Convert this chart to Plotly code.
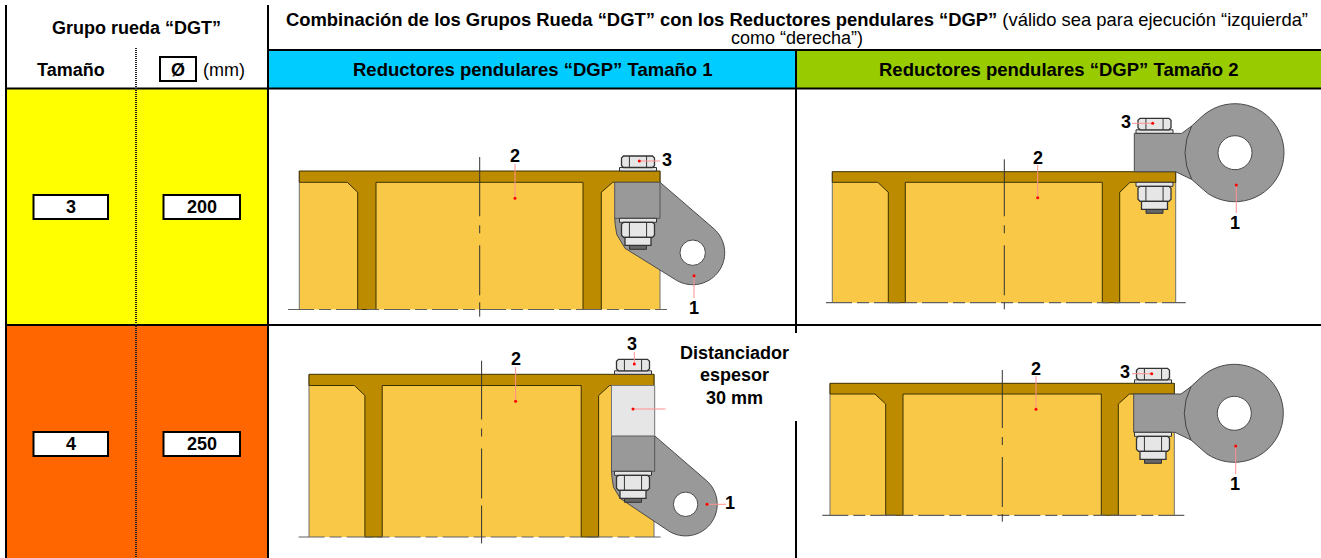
import math
import plotly.graph_objects as go

# --- table content ---
grupo_title = "Grupo rueda “DGT”"
col_tamano = "Tamaño"
col_diam = "Ø"
col_unit = "(mm)"
comb_line1 = ("<b>Combinación de los Grupos Rueda “DGT” con los Reductores pendulares “DGP”</b> "
              "(válido sea para ejecución “izquierda”")
comb_line2 = "como “derecha”)"
header_labels = ["Reductores pendulares “DGP” Tamaño 1", "Reductores pendulares “DGP” Tamaño 2"]
sizes = ["3", "4"]
diameters = ["200", "250"]
spacer_lines = ["Distanciador", "espesor", "30 mm"]

PLATE = "#BC8B00"; BODY = "#F9C846"; GREY = "#999999"; LIGHT = "#E6E6E6"
EDGE = "#4A4A4A"; RED = "#FF0000"; LEAD = "#FF9090"; BLACK = "#000000"
FS = 18

shapes, notes, dots_x, dots_y = [], [], [], []


def rect(x0, y0, x1, y1, fill=None, line=None, w=1):
    shapes.append(dict(type="rect", x0=x0, y0=y0, x1=x1, y1=y1, layer="below",
                       fillcolor=fill or "rgba(0,0,0,0)",
                       line=dict(color=line or "rgba(0,0,0,0)", width=w if line else 0)))


def seg(x0, y0, x1, y1, color=BLACK, w=1, dash="solid"):
    shapes.append(dict(type="line", x0=x0, y0=y0, x1=x1, y1=y1, layer="below",
                       line=dict(color=color, width=w, dash=dash)))


def poly(pts, fill, line=EDGE, w=1, close=True):
    d = "M" + " L".join(f"{x:.2f},{y:.2f}" for x, y in pts) + (" Z" if close else "")
    shapes.append(dict(type="path", path=d, layer="below", fillcolor=fill,
                       line=dict(color=line, width=w)))


def raw_path(d, line=EDGE, w=1):
    shapes.append(dict(type="path", path=d, layer="below", line=dict(color=line, width=w)))


def circle(cx, cy, r, fill, line=EDGE):
    shapes.append(dict(type="circle", x0=cx - r, y0=cy - r, x1=cx + r, y1=cy + r, layer="below",
                       fillcolor=fill, line=dict(color=line, width=1)))


def text(x, y, s, size=FS, bold=True, color=BLACK):
    notes.append(dict(x=x, y=y, text=f"<b>{s}</b>" if bold else s, showarrow=False,
                      xanchor="center", yanchor="middle",
                      font=dict(family="Liberation Sans, Arial, sans-serif", size=size, color=color)))


def arc(cx, cy, r, a0, a1, n=40):
    return [(cx + r * math.cos(math.radians(a0 + (a1 - a0) * i / n)),
             cy + r * math.sin(math.radians(a0 + (a1 - a0) * i / n))) for i in range(n + 1)]


def leader(x0, y0, x1, y1, dx, dy):
    seg(x0, y0, x1, y1, LEAD, 1)
    dots_x.append(dx); dots_y.append(dy)


def frame(x0, x1, top, under, bottom, r1, r2, cl, cham_l, cham_r, base0, base1, c_top, c_bot):
    rect(x0, under, x1, bottom, BODY)
    seg(x0, top, x0, bottom, "#707070", 1)
    seg(x1, top, x1, bottom, "#707070", 1)
    poly([(x0, top), (x1, top), (x1, under), (cham_r, under), (r2[1], under + 10), (r2[1], bottom),
          (r2[0], bottom), (r2[0], under), (r1[1], under), (r1[1], bottom), (r1[0], bottom),
          (r1[0], under + 10), (cham_l, under), (x0, under)], PLATE, "#3A3000", 1)
    seg(base0, bottom, base1, bottom, "#606060", 1.2, "26px,5px,12px,5px")
    for a, b in [(c_top, under + 34), (under + 43, under + 51), (under + 63, under + 113),
                 (under + 120, c_bot)]:
        seg(cl, a, cl, b, "#333333", 1)


def nut(x0, x1, y0, y1):
    c = 2
    poly([(x0 + c, y0), (x1 - c, y0), (x1, y0 + c), (x1, y1 - c), (x1 - c, y1), (x0 + c, y1),
          (x0, y1 - c), (x0, y0 + c)], LIGHT, "#333333", 1.3)
    w = x1 - x0
    seg(x0 + w * 0.24, y0, x0 + w * 0.24, y1, "#333333", 1)
    seg(x0 + w * 0.76, y0, x0 + w * 0.76, y1, "#333333", 1)


def top_bolt(cx, plate_top):
    rect(cx - 18.5, plate_top - 3.5, cx + 18.5, plate_top, LIGHT, "#333333", 1)
    nut(cx - 16.5, cx + 16.5, plate_top - 15, plate_top - 3.5)


def low_bolt(cx, y):
    rect(cx - 8.5, y + 27, cx + 8.5, y + 31, "#666666", "#333333", 1)
    rect(cx - 18.5, y, cx + 18.5, y + 4, LIGHT, "#333333", 1)
    nut(cx - 16.5, cx + 16.5, y + 4, y + 19)
    rect(cx - 13, y + 19, cx + 13, y + 27, LIGHT, "#333333", 1.3)


def lug_down(bx0, bx1, by0, by1, cx, cy, r, hole, low_pt):
    pts = [(bx1, by0)] + arc(cx, cy, r, -48, 122)
    mx, my = low_pt
    pts.append((mx, my))
    pts += [(bx0 + 2, by1 + 16), (bx0 + 0.5, by1 + 6), (bx0, by1)]
    poly(pts, GREY)
    rect(bx0, by0, bx1, by1, GREY, "#555555", 1)
    circle(cx, cy, hole, "#FFFFFF")


def lug_eye(bx0, by0, by1, cx, cy):
    r, hole = 49, 17
    pts = [(bx0, by1), (bx0, by0), (cx - 53.3, cy - 19.3), (cx - 43.3, cy - 26.7)]
    pts += arc(cx, cy, r, -134, 124)
    pts += [(cx - 43.3, cy + 26.7), (cx - 59.3, cy + 19)]
    poly(pts, GREY)
    raw_path(f"M{cx-43.3:.1f},{cy-26.7:.1f} Q{cx-56.7:.1f},{cy:.1f} {cx-43.3:.1f},{cy+26.7:.1f}", "#444444", 1)
    circle(cx, cy, hole, "#FFFFFF")


# --- table cells ---
rect(7, 89, 268, 324.5, "#FFFF00")
rect(7, 326, 268, 558, "#FF6600")
rect(269, 51, 796, 88, "#00CCFF")
rect(796, 51, 1321, 88, "#99CC00")

# --- panel 1 ---
frame(299.3, 660, 171, 182.3, 309.5, (357.7, 376), (583, 601.3), 479.7, 347.3, 612.7, 288, 671, 157, 316.7)
lug_down(614.7, 660, 182.3, 218.3, 692.7, 252.7, 32, 12.7, (625, 248.3))
top_bolt(638, 171)
low_bolt(638, 218.3)
leader(515, 164, 515, 198.3, 515, 198.3)
leader(639.3, 161, 660, 161, 639.3, 161)
leader(694, 275.7, 694, 298, 694, 275.7)
text(515, 156, "2"); text(667, 160, "3"); text(693.5, 308, "1")

# --- panel 2 ---
frame(832.3, 1175.7, 171.7, 182.3, 302.7, (888.3, 905.3), (1102.3, 1119.7), 1004.3, 877.7, 1130, 826, 1185.7, 159.3, 309.3)
lug_eye(1134.3, 133.3, 171.7, 1235, 152.7)
top_bolt(1154.5, 133.3)
low_bolt(1154.5, 182.3)
leader(1037.7, 165, 1037.7, 197.7, 1037.7, 197.7)
leader(1132, 123.3, 1152.7, 123.3, 1152.7, 123.3)
leader(1236.3, 185, 1236.3, 213, 1236.3, 185)
text(1037.7, 158, "2"); text(1126, 122, "3"); text(1235.3, 223, "1")

# --- panel 3 ---
frame(309, 654, 374.3, 385.5, 537, (364.9, 382.2), (581.2, 598.6), 481.6, 354.4, 609.5, 298.6, 665, 360.7, 543.4)
lug_down(611.5, 654.7, 435.9, 471.3, 685.6, 504.3, 31.6, 12.2, (620.3, 498.5))
rect(611.5, 385.5, 654.7, 435.9, LIGHT, "#777777", 1)
top_bolt(633, 374.3)
low_bolt(633, 471.3)
leader(515.6, 367, 515.6, 401.2, 515.6, 401.2)
leader(633, 409, 665.6, 409, 633, 409)
leader(634.3, 352, 634.3, 364, 634.3, 364)
leader(707, 504.3, 726, 504.3, 707, 504.3)
text(515.6, 359, "2"); text(632, 344, "3"); text(730, 503, "1")
for y, s in zip([352.5, 375, 397.5], spacer_lines):
    text(734.5, y, s)

# --- panel 4 ---
frame(830, 1174.3, 383.3, 394, 515.3, (885.7, 903), (1101.3, 1118.3), 1002.3, 875, 1129.3, 822.3, 1185, 370, 521.7)
lug_eye(1133.7, 394, 432.3, 1234.3, 413.3)
top_bolt(1153, 383.3)
low_bolt(1153, 432.3)
leader(1036, 376, 1036, 409.3, 1036, 409.3)
leader(1132, 373.7, 1151.7, 373.7, 1151.7, 373.7)
leader(1235.7, 446, 1235.7, 474, 1235.7, 446)
text(1036, 369, "2"); text(1125, 372, "3"); text(1235, 484, "1")

# --- grid lines ---
for x, a, b in [(6, 5, 558), (268, 5, 558), (796, 50, 333), (796, 421, 558)]:
    seg(x, a, x, b, BLACK, 2)
seg(268, 50, 1321, 50, BLACK, 2)
seg(6, 88.5, 1321, 88.5, BLACK, 2)
seg(6, 325, 1321, 325, BLACK, 2)
seg(136, 48, 136, 558, "#222222", 2, "1px,1px")

# --- boxes and texts ---
rect(160, 57, 196, 81, "#FFFFFF", BLACK, 2)
text(136, 28, grupo_title, size=18)
text(70.5, 69.5, col_tamano)
text(178, 69.5, col_diam)
text(224, 69.5, col_unit, bold=False)
text(797, 19.5, comb_line1, size=18.4, bold=False)
text(797, 37.5, comb_line2, bold=False)
text(532, 69.5, header_labels[0], size=18.5)
text(1058, 69.5, header_labels[1], size=18.5)
for (y0, y1), s, d in zip([(195, 219), (432, 456)], sizes, diameters):
    rect(33.5, y0, 108, y1, "#FFFFFF", BLACK, 2)
    rect(163.5, y0, 240, y1, "#FFFFFF", BLACK, 2)
    text(70.5, (y0 + y1) / 2, s)
    text(201.5, (y0 + y1) / 2, d)

fig = go.Figure(go.Scatter(x=dots_x, y=dots_y, mode="markers", hoverinfo="skip", showlegend=False,
                           marker=dict(color=RED, size=3)))
fig.update_layout(width=1321, height=558, margin=dict(l=0, r=0, t=0, b=0), paper_bgcolor="#FFFFFF",
                  plot_bgcolor="#FFFFFF", shapes=shapes, annotations=notes, showlegend=False,
                  xaxis=dict(range=[0, 1321], visible=False, fixedrange=True),
                  yaxis=dict(range=[558, 0], visible=False, fixedrange=True))
fig.write_html("out.html", config={"displayModeBar": False},
               post_script="document.body.style.margin='0';document.body.style.overflow='hidden';")
